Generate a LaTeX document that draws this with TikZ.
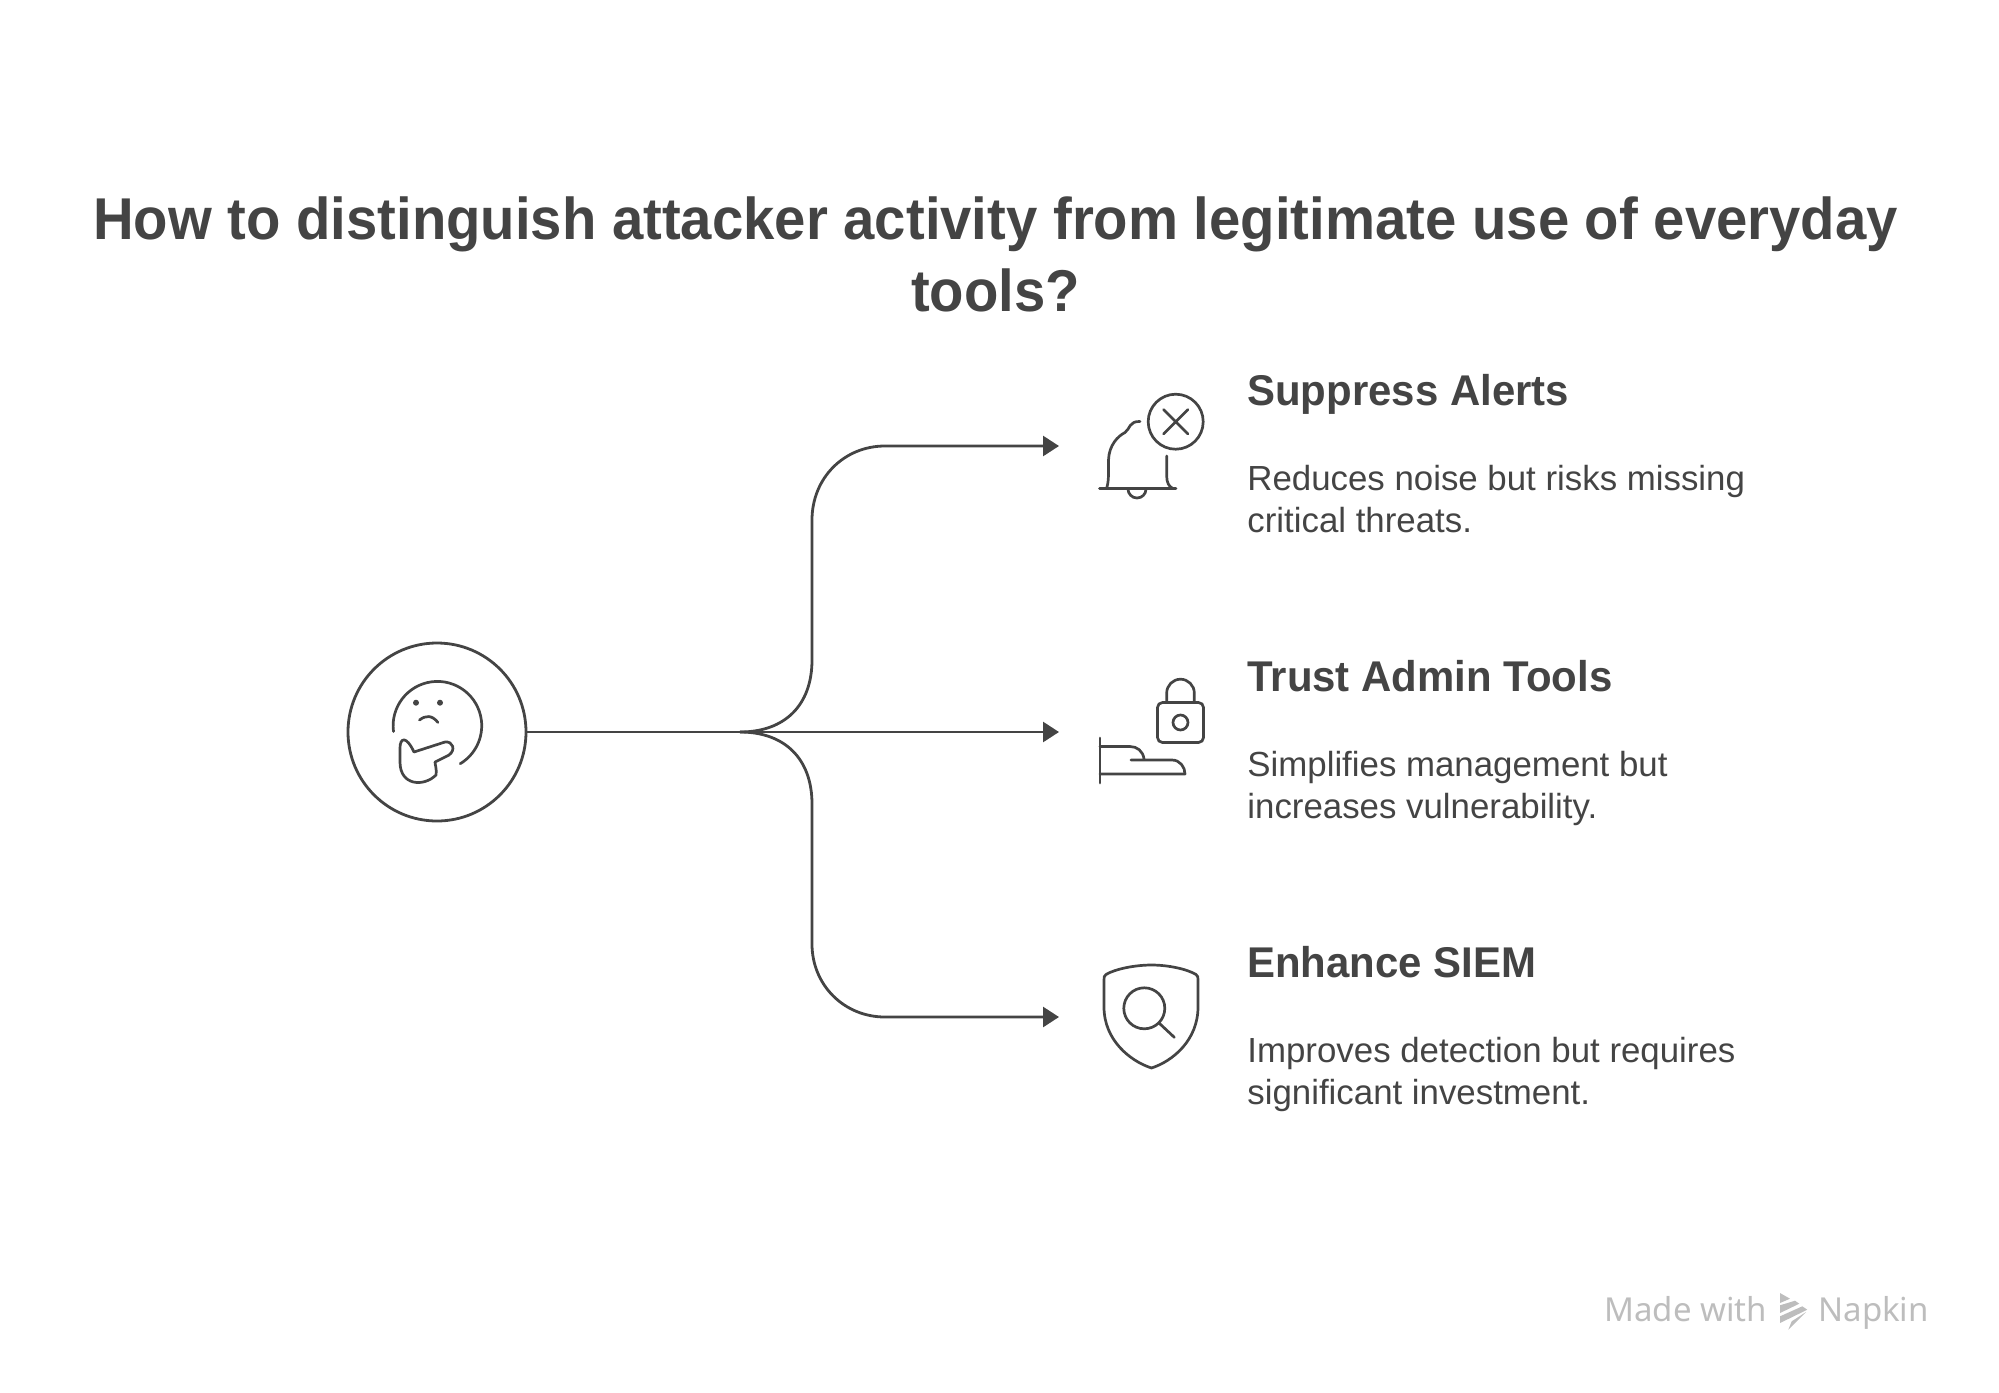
\documentclass[tikz,border=0pt]{standalone}
\usepackage{fontspec}
\setmainfont{Liberation Sans}
\newfontfamily\titlefont[FakeStretch=0.954]{Liberation Sans}
\newfontfamily\headfont[FakeStretch=0.975]{Liberation Sans}
\newfontfamily\markfont{Noto Sans}
\definecolor{inkgray}{HTML}{444444}
\definecolor{markgray}{HTML}{BDBDBD}
\usetikzlibrary{arrows.meta}
\tikzset{
  titletext/.style={font=\titlefont\fontsize{29.5}{36}\selectfont\bfseries, text=inkgray, align=center, inner sep=0pt},
  headtext/.style={font=\headfont\fontsize{21.5}{26}\selectfont\bfseries, text=inkgray, anchor=base west, inner sep=0pt},
  desctext/.style={font=\fontsize{17.42}{21}\selectfont, text=inkgray, anchor=north west, align=left, inner sep=0pt},
  marktext/.style={font=\markfont\fontsize{16.5}{20}\selectfont, text=markgray, anchor=base west, inner sep=0pt},
  branch/.style={-{Triangle[length=8pt,width=10pt]}, line width=1.4pt, draw=inkgray},
  glyph/.style={line width=1.35pt, draw=inkgray, line cap=round, line join=round},
  hub/.style={circle, draw=inkgray, line width=1.4pt, minimum size=89pt, inner sep=0pt}
}
\begin{document}
\begin{tikzpicture}[x=0.5pt, y=-0.5pt]
  \useasboundingbox (0,0) rectangle (1999,1393);

  % Title
  \node[titletext] (title) at (995.5,254.5) {How to distinguish attacker activity from legitimate use of everyday\\tools?};

  % Hub circle and the fork point
  \node[hub] (hub) at (437,732) {};
  \coordinate (fork) at (740,732);
  \coordinate (alertsTip) at (1059,446);
  \coordinate (adminTip) at (1059,732);
  \coordinate (siemTip) at (1059,1017);

  % Connectors
  \draw[branch, -] (hub) -- (fork);
  \draw[branch] (fork) .. controls (785,732) and (812,705) .. (812,660) -- (812,520) .. controls (812,478) and (844,446) .. (885,446) -- (alertsTip);
  \draw[branch] (fork) -- (adminTip);
  \draw[branch] (fork) .. controls (785,732) and (812,759) .. (812,804) -- (812,944) .. controls (812,985) and (844,1017) .. (885,1017) -- (siemTip);

  % Thinking face
  \draw[glyph] (393.5,731.5) arc (172.5:419:44.3);
  \fill[inkgray] (416,702.7) circle (3) (440,702.7) circle (3);
  \draw[glyph] (419.5,720) .. controls (426,715) and (432,715) .. (438,722.5);
  \draw[glyph] (414,752) .. controls (406,735) and (400,738) .. (400,748) -- (400,762)
    .. controls (400,786) and (424,787) .. (436,775) .. controls (437,770) and (435,764) .. (435,762)
    -- (449,755) .. controls (456,750) and (453,741) .. (445,742) -- cycle;

  % Bell with a cross
  \draw[glyph] (1175.7,421.7) circle (27.5);
  \draw[glyph] (1163.5,409.5) -- (1188,434) (1188,409.5) -- (1163.5,434);
  \draw[glyph] (1099.5,488.5) -- (1176,488.5);
  \draw[glyph] (1107,487) .. controls (1109,480) and (1108.5,470) .. (1108.5,460) .. controls (1109,445) and (1118,436) .. (1125,432.5) .. controls (1130,429) and (1129,421) .. (1140,421.5);
  \draw[glyph] (1166.7,456) -- (1166.7,476) .. controls (1166.7,483) and (1169,486) .. (1172,488);
  \draw[glyph] (1128,489) arc (180:0:9);

  % Lock above a hand
  \draw[glyph, rounded corners=2.5pt] (1157.5,702.5) rectangle (1203.5,742.5);
  \draw[glyph] (1180.5,722.5) circle (7.5);
  \draw[glyph] (1166.7,702) -- (1166.7,693) arc (180:360:13.8) -- (1194.3,702);
  \draw[glyph] (1100,738) -- (1100,783);
  \draw[glyph] (1100,746.5) -- (1130,746.5) .. controls (1137,746.5) and (1143,751) .. (1144,759);
  \draw[glyph] (1131,760) -- (1172,760) .. controls (1180,760) and (1185,767) .. (1185,774) -- (1100,774);

  % Shield with a magnifier
  \draw[glyph] (1151.5,965) .. controls (1135,965) and (1115,969) .. (1106,974.5) .. controls (1104,976) and (1104,977) .. (1104,980) -- (1104,1007)
    .. controls (1104,1040) and (1130,1061) .. (1151.5,1068) .. controls (1173,1061) and (1198,1040) .. (1198,1007) -- (1198,980)
    .. controls (1198,977) and (1198,976) .. (1196,974.5) .. controls (1187,969) and (1168,965) .. (1151.5,965) -- cycle;
  \draw[glyph] (1144.3,1008.3) circle (20.5);
  \draw[glyph] (1159,1023) -- (1174.3,1037.3);

  % Options
  \node[headtext] (alertshead) at (1247,405) {Suppress Alerts};
  \node[desctext] (alertsdesc) at (1247,465) {Reduces noise but risks missing\\critical threats.};
  \node[headtext] (adminhead) at (1247,691) {Trust Admin Tools};
  \node[desctext] (admindesc) at (1247,751) {Simplifies management but\\increases vulnerability.};
  \node[headtext] (siemhead) at (1247,977) {Enhance SIEM};
  \node[desctext] (siemdesc) at (1247,1037) {Improves detection but requires\\significant investment.};

  % Watermark
  \node[marktext] (madewith) at (1604,1321) {Made with};
  \node[marktext] (napkin) at (1818,1321) {Napkin};
  \fill[markgray] (1780,1293) -- (1790,1298.7) -- (1780,1303) -- cycle;
  \fill[markgray] (1780,1305.3) -- (1795,1300.7) -- (1799.3,1303.7) -- (1780,1313) -- cycle;
  \fill[markgray] (1780,1316.3) -- (1802.3,1306.3) -- (1807.3,1309.7) -- (1780,1323) -- cycle;
  \fill[markgray] (1788.3,1329.7) -- (1791.7,1321.3) -- (1806,1312) -- cycle;
\end{tikzpicture}
\end{document}
